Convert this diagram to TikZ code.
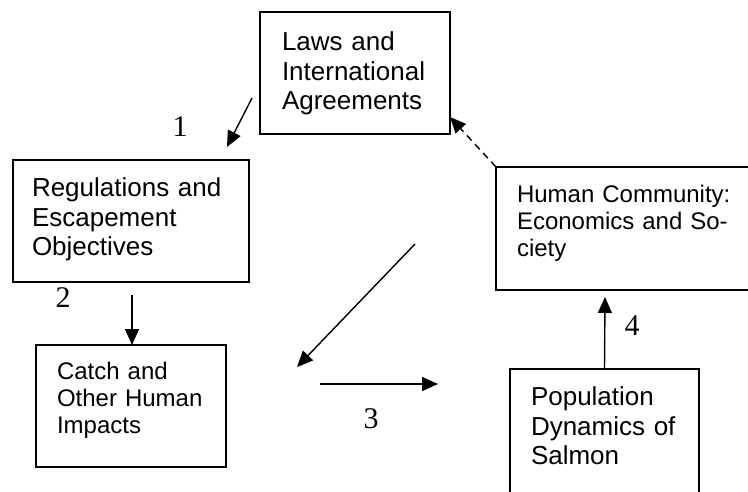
\documentclass[tikz,border=0pt]{standalone}
\usepackage{fontspec}
\setmainfont{Liberation Serif}
\newfontfamily\arialfont{Liberation Sans}
\usetikzlibrary{arrows.meta}

\begin{document}
\begin{tikzpicture}[x=1pt,y=-1pt,
    box/.style={draw,line width=1.5pt,anchor=north west,outer sep=0pt,align=left},
    big/.style={font=\arialfont\fontsize{26}{29.5}\selectfont,text height=18.6pt},
    small/.style={font=\arialfont\fontsize{24}{27}\selectfont,text height=17.2pt},
    num/.style={font=\fontsize{30}{30}\selectfont,inner sep=0pt},
    link/.style={line width=1.4pt,-{Triangle[length=16pt,width=14pt]}}]
            \clip (0,0) rectangle (748,491);
            % boxes
            \node (laws) at (260,12) [box,big,inner xsep=22pt,inner ysep=20pt,text width=146pt,text depth=63.4pt] {Laws and\\International\\Agreements};
            \node (regs) at (13,160) [box,big,inner xsep=19pt,inner ysep=18pt,text width=198pt,text depth=67.4pt] {Regulations and\\Escapement\\Objectives};
            \node (catch) at (36,345) [box,small,inner xsep=21pt,inner ysep=17pt,text width=148pt,text depth=70.8pt] {Catch and\\Other Human\\Impacts};
            \node (human) at (496,167) [box,small,inner xsep=21pt,inner ysep=18pt,text width=232pt,text depth=69.8pt] {Human Community:\\Economics and So-\\ciety};
            \node (pop) at (510,369) [box,big,inner xsep=21pt,inner ysep=18pt,text width=147pt,text depth=96.4pt] {Population\\Dynamics of\\Salmon};
            % free ends
            \coordinate (s1) at (252,98);
            \coordinate (t1) at (227,147);
            \coordinate (s2) at (132,295);
            \coordinate (t5) at (450,117);
            \coordinate (s6) at (415,244);
            \coordinate (t6) at (297,367);
            \coordinate (s3) at (320,384);
            \coordinate (t3) at (438,384);
            \coordinate (t4) at (605,297);
            % numbers
            \node (n1) at (180,127) [num] {1};
            \node (n2) at (63,298) [num] {2};
            \node (n3) at (371,419) [num] {3};
            \node (n4) at (632,326) [num] {4};
            % arrows
            \draw[link] (s1) -- (t1);
            \draw[link] (s2) -- (s2 |- catch.north);
            \draw[link,dash pattern=on 7pt off 5pt] (human.north west) -- (t5);
            \draw[link] (s6) -- (t6);
            \draw[link] (s3) -- (t3);
            \draw[link] (pop.north) -- (t4);
        \end{tikzpicture}
\end{document}
